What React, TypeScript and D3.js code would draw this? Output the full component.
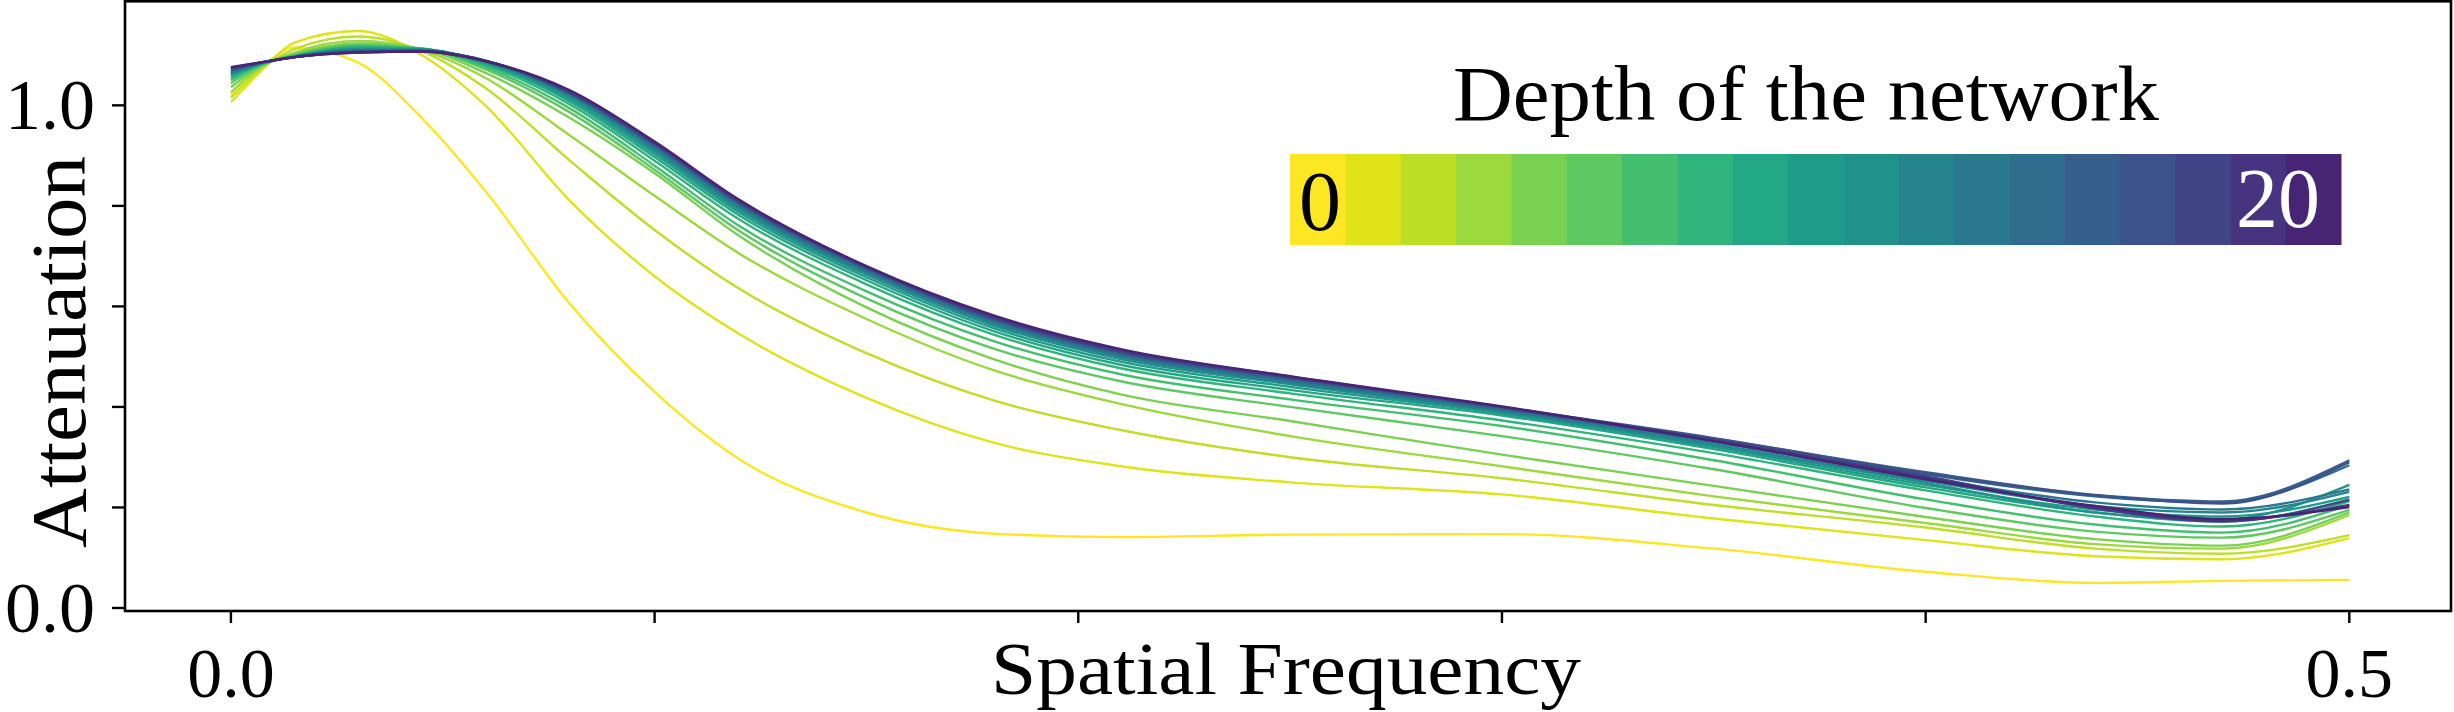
import React from "react";
import * as d3 from "d3";

// spatial frequency sample points (x)
const freq = [0, 0.0075, 0.015, 0.03, 0.045, 0.06, 0.08, 0.1, 0.12, 0.15, 0.18, 0.21, 0.25, 0.3, 0.35, 0.4, 0.44, 0.47, 0.5];

// attenuation per network depth
const depth0 = [1.02, 1.078, 1.115, 1.085, 0.975, 0.83, 0.605, 0.43, 0.296, 0.19, 0.148, 0.141, 0.146, 0.147, 0.118, 0.072, 0.05, 0.054, 0.056];
const depth1 = [1.006, 1.072, 1.125, 1.148, 1.1, 1.0, 0.81, 0.66, 0.545, 0.418, 0.329, 0.282, 0.25, 0.226, 0.178, 0.135, 0.103, 0.097, 0.139];
const depth2 = [1.015, 1.075, 1.112, 1.137, 1.108, 1.035, 0.89, 0.752, 0.635, 0.507, 0.413, 0.354, 0.3, 0.258, 0.205, 0.16, 0.118, 0.108, 0.145];
const depth3 = [1.026, 1.078, 1.105, 1.128, 1.11, 1.055, 0.94, 0.82, 0.705, 0.575, 0.473, 0.406, 0.342, 0.282, 0.222, 0.169, 0.127, 0.118, 0.185];
const depth4 = [1.036, 1.08, 1.102, 1.123, 1.112, 1.065, 0.975, 0.865, 0.74, 0.598, 0.495, 0.425, 0.372, 0.305, 0.243, 0.181, 0.137, 0.124, 0.19];
const depth5 = [1.044, 1.081, 1.1, 1.12, 1.113, 1.072, 0.986, 0.872, 0.75, 0.616, 0.516, 0.451, 0.4, 0.342, 0.276, 0.199, 0.152, 0.14, 0.195];
const depth6 = [1.05, 1.082, 1.099, 1.118, 1.113, 1.076, 0.994, 0.88, 0.76, 0.63, 0.531, 0.465, 0.415, 0.362, 0.294, 0.216, 0.166, 0.15, 0.205];
const depth7 = [1.054, 1.083, 1.098, 1.116, 1.112, 1.08, 1.002, 0.89, 0.773, 0.644, 0.544, 0.477, 0.427, 0.373, 0.308, 0.234, 0.182, 0.162, 0.212];
const depth8 = [1.058, 1.084, 1.098, 1.114, 1.112, 1.083, 1.008, 0.897, 0.781, 0.652, 0.551, 0.484, 0.434, 0.383, 0.316, 0.24, 0.19, 0.172, 0.216];
const depth9 = [1.06, 1.084, 1.097, 1.112, 1.111, 1.085, 1.012, 0.903, 0.787, 0.658, 0.557, 0.49, 0.44, 0.387, 0.32, 0.245, 0.196, 0.182, 0.221];
const depth10 = [1.062, 1.085, 1.097, 1.111, 1.11, 1.086, 1.016, 0.908, 0.792, 0.663, 0.562, 0.495, 0.445, 0.39, 0.323, 0.249, 0.19, 0.176, 0.245];
const depth11 = [1.064, 1.085, 1.097, 1.11, 1.11, 1.087, 1.019, 0.912, 0.796, 0.667, 0.566, 0.499, 0.448, 0.392, 0.326, 0.253, 0.203, 0.19, 0.231];
const depth12 = [1.066, 1.085, 1.096, 1.109, 1.109, 1.088, 1.021, 0.916, 0.8, 0.67, 0.569, 0.502, 0.451, 0.394, 0.33, 0.259, 0.21, 0.196, 0.236];
const depth13 = [1.068, 1.085, 1.096, 1.108, 1.109, 1.088, 1.023, 0.919, 0.803, 0.673, 0.572, 0.505, 0.454, 0.396, 0.334, 0.266, 0.222, 0.21, 0.284];
const depth14 = [1.07, 1.086, 1.096, 1.107, 1.108, 1.089, 1.024, 0.921, 0.805, 0.675, 0.574, 0.507, 0.456, 0.398, 0.337, 0.27, 0.225, 0.212, 0.294];
const depth15 = [1.072, 1.086, 1.096, 1.106, 1.108, 1.089, 1.025, 0.923, 0.807, 0.677, 0.576, 0.509, 0.458, 0.399, 0.338, 0.268, 0.224, 0.208, 0.29];
const depth16 = [1.073, 1.086, 1.096, 1.106, 1.107, 1.089, 1.026, 0.924, 0.808, 0.678, 0.577, 0.51, 0.459, 0.4, 0.335, 0.262, 0.198, 0.172, 0.215];
const depth17 = [1.075, 1.086, 1.096, 1.105, 1.107, 1.088, 1.028, 0.926, 0.81, 0.679, 0.579, 0.513, 0.46, 0.4, 0.333, 0.259, 0.2, 0.174, 0.205];
const depth18 = [1.076, 1.086, 1.096, 1.105, 1.107, 1.088, 1.03, 0.928, 0.812, 0.68, 0.582, 0.515, 0.461, 0.401, 0.332, 0.256, 0.203, 0.177, 0.201];

const series = [depth0, depth1, depth2, depth3, depth4, depth5, depth6, depth7, depth8, depth9,
  depth10, depth11, depth12, depth13, depth14, depth15, depth16, depth17, depth18];

const xTicks = [0, 0.1, 0.2, 0.3, 0.4, 0.5];
const xTickLabels = ["0.0", "", "", "", "", "0.5"];
const yTicks = [0, 0.2, 0.4, 0.6, 0.8, 1.0];
const yTickLabels = ["0.0", "", "", "", "", "1.0"];
const legendEnds = ["0", "20"];

const W = 2454;
const H = 712;
const FONT = "'Liberation Serif', 'DejaVu Serif', serif";

export default function App() {
  const x = d3.scaleLinear().domain([-0.025, 0.524]).range([125, 2451]);
  const y = d3.scaleLinear().domain([-0.006, 1.207]).range([611, 1.3]);

  // viridis, yellow for depth 0 to purple for the deepest
  const color = (i: number) => d3.interpolateViridis(1 - i * 0.05);

  const line = d3
    .line<number>()
    .x((_, i) => x(freq[i]))
    .y((d) => y(d))
    .curve(d3.curveMonotoneX);

  // colour strip of the legend
  const band = d3
    .scaleBand<number>()
    .domain(series.map((_, i) => i))
    .range([1290, 2341]);

  return (
    <div style={{ position: "absolute", left: 0, top: 0 }}>
      <svg width={W} height={H} style={{ display: "block", background: "#fff" }}>
        {/* curves */}
        <g fill="none">
          {series.map((s, i) => (
            <path key={i} d={line(s) || ""} stroke={color(i)} strokeWidth={2.4} />
          ))}
        </g>

        {/* legend */}
        <text x={1806} y={120} fontFamily={FONT} fontSize={78} textAnchor="middle" textLength={706} lengthAdjust="spacingAndGlyphs">
          Depth of the network
        </text>
        <g>
          {series.map((_, i) => (
            <rect key={i} x={band(i)} y={154} width={band.bandwidth() + 0.5} height={91} fill={color(i)} />
          ))}
        </g>
        <text x={1299} y={230} fontFamily={FONT} fontSize={84} fill="#000">{legendEnds[0]}</text>
        <text x={2320} y={227} fontFamily={FONT} fontSize={84} fill="#fff" textAnchor="end">{legendEnds[1]}</text>

        {/* frame */}
        <rect x={125} y={1.3} width={2326} height={609.7} fill="none" stroke="#000" strokeWidth={2.6} />

        {/* x ticks */}
        <g>
          {xTicks.map((t, i) => (
            <g key={i}>
              <line x1={x(t)} x2={x(t)} y1={611} y2={623} stroke="#000" strokeWidth={2.4} />
              {xTickLabels[i] && (
                <text x={x(t)} y={697} fontFamily={FONT} fontSize={70} textAnchor="middle">{xTickLabels[i]}</text>
              )}
            </g>
          ))}
        </g>

        {/* y ticks */}
        <g>
          {yTicks.map((t, i) => (
            <g key={i}>
              <line x1={112} x2={125} y1={y(t)} y2={y(t)} stroke="#000" strokeWidth={2.4} />
              {yTickLabels[i] && (
                <text x={95} y={y(t) + 24} fontFamily={FONT} fontSize={72} textAnchor="end">{yTickLabels[i]}</text>
              )}
            </g>
          ))}
        </g>

        {/* axis labels */}
        <text x={1286} y={694} fontFamily={FONT} fontSize={74} textAnchor="middle" textLength={590} lengthAdjust="spacingAndGlyphs">
          Spatial Frequency
        </text>
        <text transform="translate(85,352) rotate(-90)" fontFamily={FONT} fontSize={78} textAnchor="middle" textLength={392} lengthAdjust="spacingAndGlyphs">
          Attenuation
        </text>
      </svg>
    </div>
  );
}
